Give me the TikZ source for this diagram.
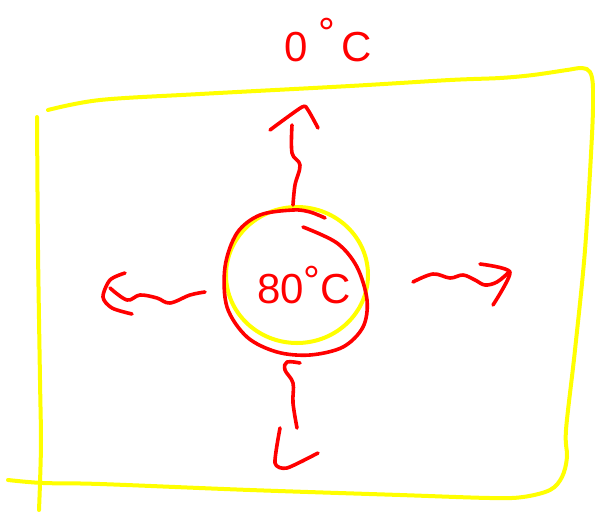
\documentclass[tikz,border=0pt]{standalone}
\usepackage{fontspec}
\setmainfont{Liberation Sans}
\definecolor{penred}{RGB}{255,0,0}
\definecolor{penyellow}{RGB}{255,255,0}
\begin{document}
\begin{tikzpicture}[x=1pt,y=-1pt,
  ystroke/.style={draw=penyellow,line width=4pt,line cap=round,line join=round},
  rstroke/.style={draw=penred,line width=3.6pt,line cap=round,line join=round},
  handtext/.style={text=penred,font=\fontsize{42}{44}\selectfont,inner sep=0pt}]
\useasboundingbox (0,0) rectangle (595,512);
% yellow frame
\draw[ystroke] plot[smooth,tension=0.55] coordinates {(48,110) (100,100) (200,94) (350,86) (450,80) (500,78) (533,75) (567,70) (582,68) (590,72) (593,88) (592,135) (585,250) (575,350) (566,430) (567,457) (562,477) (550,490) (523,497) (490,498) (400,495) (250,490) (100,484) (43,483) (8,480)};
\draw[ystroke] plot[smooth,tension=0.5] coordinates {(37,117) (38,250) (40,380) (41,440) (40,483) (39,510)};
% yellow circle
\draw[ystroke] (297,275) ellipse [x radius=71,y radius=68];
% red circle
\draw[rstroke] plot[smooth,tension=0.55] coordinates {(325,218) (310,212) (293,210) (260,215) (237,233) (225,267) (227,307) (247,337) (277,352) (310,355) (343,347) (363,327) (367,300) (357,267) (337,243) (303,227)};
% texts
\node[handtext] (hot) at (304,285) {80\raisebox{0.2em}{°}C};
\node[handtext] (cold) at (328,40) {0\hspace{0.25em}\raisebox{0.35em}{°}\hspace{0.15em}C};
% up arrow
\coordinate (upS) at (293,205);
\draw[rstroke] plot[smooth,tension=0.6] coordinates {(upS) (295,185) (300,165) (292,153) (292,125)};
\draw[rstroke] plot[smooth,tension=0.4] coordinates {(270,130) (302,107) (308,110) (318,128)};
% down arrow
\coordinate (dnS) at (300,363);
\draw[rstroke] plot[smooth,tension=0.6] coordinates {(dnS) (287,362) (285,370) (293,383) (293,403) (297,428)};
\draw[rstroke] plot[smooth,tension=0.4] coordinates {(280,428) (275,463) (287,468) (318,453)};
% left arrow
\coordinate (lfS) at (205,292);
\draw[rstroke] plot[smooth,tension=0.6] coordinates {(lfS) (190,295) (170,303) (157,298) (140,295) (127,300) (110,288)};
\draw[rstroke] plot[smooth,tension=0.5] coordinates {(125,273) (110,280) (103,297) (112,308) (132,314)};
% right arrow
\coordinate (rtS) at (413,282);
\draw[rstroke] plot[smooth,tension=0.6] coordinates {(rtS) (433,274) (450,278) (463,275) (475,280) (485,285) (497,282) (508,273)};
\draw[rstroke] plot[smooth,tension=0.4] coordinates {(480,264) (510,272) (493,305)};
\end{tikzpicture}
\end{document}
